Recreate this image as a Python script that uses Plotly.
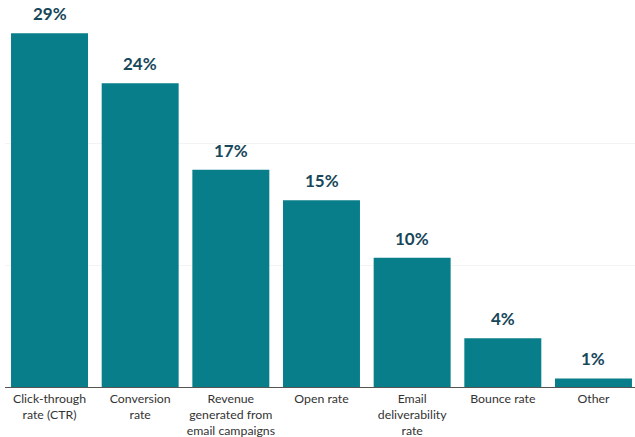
import plotly.graph_objects as go

categories = [
    "Click-through<br>rate (CTR)",
    "Conversion<br>rate",
    "Revenue<br>generated from<br>email campaigns",
    "Open rate",
    "Email<br>deliverability<br>rate",
    "Bounce rate",
    "Other",
]
values = [29.0, 24.9, 17.8, 15.3, 10.6, 4.0, 0.7]
labels = ["29%", "24%", "17%", "15%", "10%", "4%", "1%"]

BAR = "#087e8a"
LABEL = "#17475a"

fig = go.Figure(
    go.Bar(
        x=categories,
        y=values,
        marker=dict(color=BAR, line=dict(width=0)),
        hoverinfo="skip",
    )
)

for c, v, t in zip(categories, values, labels):
    fig.add_annotation(
        x=c, y=v, text=f"<b>{t}</b>", showarrow=False,
        yanchor="bottom", yshift=7,
        font=dict(family="Lato", size=17, color=LABEL),
    )

fig.update_layout(
    width=635, height=437,
    margin=dict(l=5, r=0, t=21, b=50, autoexpand=False),
    paper_bgcolor="white", plot_bgcolor="white",
    bargap=0.151,
    showlegend=False,
    xaxis=dict(
        range=[-0.491, 6.458],
        showline=True, linecolor="#555555", linewidth=1,
        ticks="", showgrid=False, ticklabelstandoff=0, automargin=False,
        tickfont=dict(family="Lato", size=12.3, color="#333333"),
    ),
    yaxis=dict(
        range=[0, 30], dtick=10, showticklabels=False,
        showgrid=True, gridcolor="#f3f3f3", gridwidth=1,
        zeroline=False, fixedrange=True, automargin=False,
    ),
)

fig.write_html("out.html")
